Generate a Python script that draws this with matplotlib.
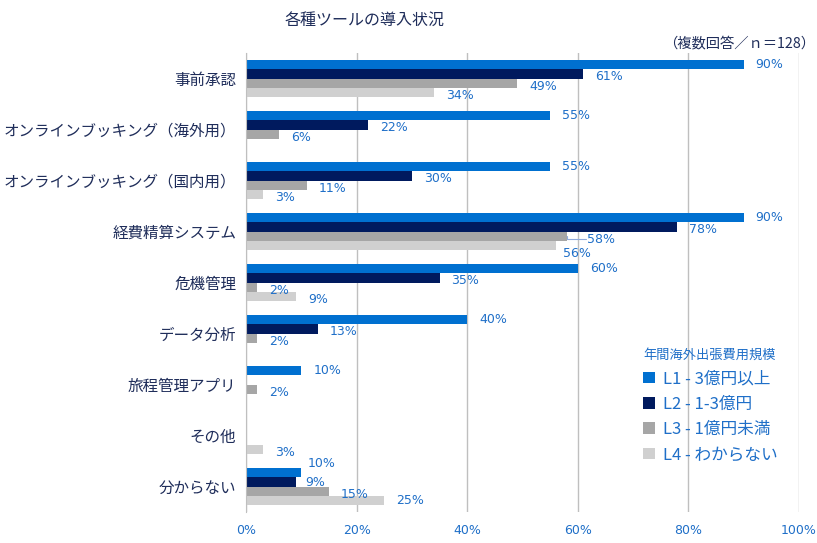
import numpy as np
import matplotlib.pyplot as plt
from matplotlib.patches import Patch

plt.rcParams['font.family'] = ['Noto Sans CJK JP', 'DejaVu Sans']

# データ
categories = ['事前承認', 'オンラインブッキング（海外用）', 'オンラインブッキング（国内用）',
              '経費精算システム', '危機管理', 'データ分析', '旅程管理アプリ', 'その他', '分からない']
nan = np.nan
l1 = [90, 55, 55, 90, 60, 40, 10, nan, 10]
l2 = [61, 22, 30, 78, 35, 13, nan, nan, 9]
l3 = [49, 6, 11, 58, 2, 2, 2, nan, 15]
l4 = [34, nan, 3, 56, 9, nan, nan, 3, 25]
series_names = ['L1 - 3億円以上', 'L2 - 1-3億円', 'L3 - 1億円未満', 'L4 - わからない']
series = [l1, l2, l3, l4]
colors = ['#0070D0', '#001A5E', '#A6A6A6', '#D0D0D0']
xticks = [0, 20, 40, 60, 80, 100]

navy = '#1F2D5A'
blue = '#1F6FC8'

# ラベル位置の手動調整 (カテゴリ, 系列) -> (dx, dy) ピクセル
nudge = {(3, 2): (8, 0), (3, 3): (-5, 5), (8, 0): (-6, -9), (8, 1): (-3, -2), (8, 3): (0, -3)}
pt = 0.72  # px -> pt

fig = plt.figure(figsize=(8.17, 5.43), dpi=100)
ax = fig.add_axes([246 / 817, 1 - 512 / 543, 553 / 817, 459 / 543])

y = np.arange(len(categories))
h = 0.18
for i, (vals, c) in enumerate(zip(series, colors)):
    pos = y + (i - 1.5) * h
    ax.barh(pos, vals, height=h, color=c, zorder=3)
    for j, (p, v) in enumerate(zip(pos, vals)):
        if np.isnan(v):
            continue
        dx, dy = 12, (0 if i == 0 else 3)
        ex, ey = nudge.get((j, i), (0, 0))
        dx += ex
        dy += ey
        ax.annotate(f'{v:.0f}%', (v, p), xytext=(dx * pt, -dy * pt), textcoords='offset points',
                    va='center', ha='left', fontsize=9, color=blue, zorder=6,
                    family='DejaVu Sans')
        if (j, i) == (3, 2):
            # 引き出し線
            ax.annotate('', (v, p), xytext=((dx - 1) * pt, -dy * pt), textcoords='offset points',
                        arrowprops=dict(arrowstyle='-', color='#8FAADC', lw=0.8,
                                        connectionstyle='angle,angleA=0,angleB=90,rad=0',
                                        shrinkA=0, shrinkB=0))

ax.set_xlim(0, 100)
ax.set_ylim(len(categories) - 0.5, -0.5)
ax.set_xticks(xticks)
ax.set_xticklabels([f'{t}%' for t in xticks], fontsize=9, color=blue, family='DejaVu Sans')
ax.set_yticks(y)
ax.set_yticklabels(categories, fontsize=11.2, color=navy)
ax.tick_params(length=0)
ax.tick_params(axis='x', pad=9)
ax.tick_params(axis='y', pad=7)
ax.grid(axis='x', color='#BFBFBF', linewidth=1, zorder=0)
for s in ['top', 'right', 'bottom']:
    ax.spines[s].set_visible(False)
ax.spines['left'].set_color('#BFBFBF')
ax.spines['left'].set_zorder(4)

fig.text(365 / 817, 1 - 20 / 543, '各種ツールの導入状況', fontsize=11.5, color=navy,
         ha='center', va='center')
fig.text(815 / 817, 1 - 43 / 543, '（複数回答／ｎ＝128）', fontsize=10.3, color=navy,
         ha='right', va='center')

handles = [Patch(facecolor=c, edgecolor='none') for c in colors]
leg = fig.legend(handles, series_names, loc='upper left', bbox_to_anchor=(628 / 817, 1 - 334 / 543),
                 frameon=False, title='年間海外出張費用規模', title_fontsize=9.5, fontsize=12,
                 labelcolor=blue, handlelength=0.7, handleheight=0.7, handletextpad=0.5,
                 labelspacing=0.5, alignment='left')
leg.get_title().set_color(blue)

fig.savefig('out.png', dpi=100)
